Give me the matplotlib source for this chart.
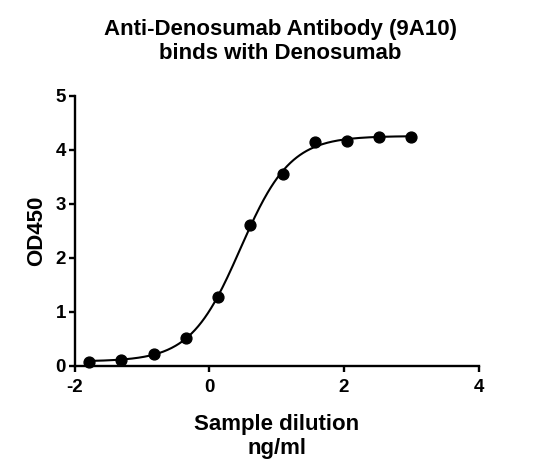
import numpy as np
import matplotlib.pyplot as plt

# ----------------------------
# Data (log10 concentration vs OD450)
# ----------------------------

log_conc = [-1.787, -1.316, -0.830, -0.354, 0.132, 0.608, 1.089, 1.565, 2.041, 2.522, 3.003]
od450 = [0.074, 0.105, 0.216, 0.519, 1.265, 2.60, 3.55, 4.14, 4.155, 4.24, 4.235]

x = np.array(log_conc)
y = np.array(od450)

# ----------------------------
# 4PL fit (grid search on EC50 / Hill, linear solve for bottom / top)
# ----------------------------

best = None
for ec in np.linspace(0.0, 1.0, 201):
    for h in np.linspace(0.6, 2.0, 141):
        s = 1.0 / (1.0 + 10 ** ((ec - x) * h))
        A = np.column_stack([1 - s, s])
        coef, res, _, _ = np.linalg.lstsq(A, y, rcond=None)
        err = np.sum((A @ coef - y) ** 2)
        if best is None or err < best[0]:
            best = (err, ec, h, coef)

_, ec50, hill, (bottom, top) = best
xf = np.linspace(x.min(), x.max(), 400)
yf = bottom + (top - bottom) / (1.0 + 10 ** ((ec50 - xf) * hill))

# ----------------------------
# Plot
# ----------------------------

plt.rcParams['font.family'] = ['Liberation Sans', 'DejaVu Sans']
plt.rcParams['font.weight'] = 'bold'
plt.rcParams['axes.unicode_minus'] = False

fig = plt.figure(figsize=(5.42, 4.76), dpi=100)
ax = fig.add_axes([0.138, 0.232, 0.745, 0.567])

ax.plot(xf, yf, color='black', lw=1.5, clip_on=False)
ax.plot(x, y, 'o', color='black', ms=7.8, clip_on=False, zorder=3)

ax.set_xlim(-2, 4)
ax.set_ylim(0, 5)
ax.set_xticks([-2, 0, 2, 4])
ax.set_yticks([0, 1, 2, 3, 4, 5])

for side in ['top', 'right']:
    ax.spines[side].set_visible(False)
for side in ['left', 'bottom']:
    ax.spines[side].set_linewidth(1.7)

ax.tick_params(width=1.7, length=4.5, labelsize=13.5)
ax.tick_params(axis='x', pad=5)
ax.tick_params(axis='y', pad=2)
ax.set_xlabel("Sample dilution\nng/ml", fontsize=16, fontweight='bold', labelpad=13)
ax.set_ylabel("OD450", fontsize=16, fontweight='bold', labelpad=6)

fig.text(280 / 542, 1 - 19 / 476, "Anti-Denosumab Antibody (9A10)\nbinds with Denosumab",
         ha='center', va='top', fontsize=16, fontweight='bold', linespacing=1.2)

fig.savefig("out.png", dpi=100)
plt.close()
